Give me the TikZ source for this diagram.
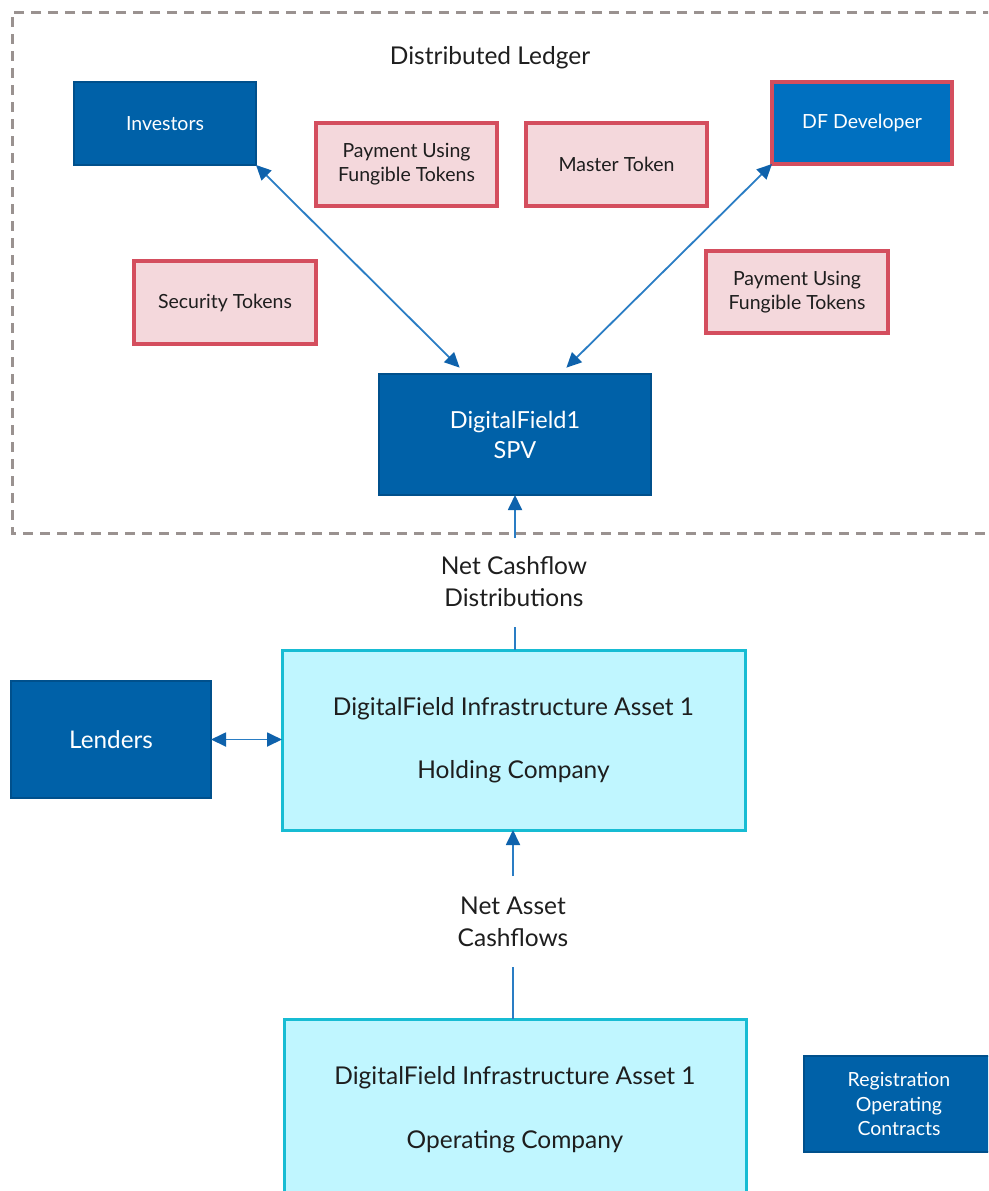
\documentclass[tikz,border=0pt]{standalone}
\usepackage{fontspec}
\setmainfont{Lato}
\usetikzlibrary{arrows.meta}
\definecolor{dkblue}{HTML}{0061A8}
\definecolor{dkblueline}{HTML}{00508C}
\definecolor{midblue}{HTML}{0070C0}
\definecolor{pinkfill}{HTML}{F4D8DC}
\definecolor{redline}{HTML}{D44E5E}
\definecolor{cyanfill}{HTML}{C0F6FF}
\definecolor{cyanline}{HTML}{17BCD3}
\definecolor{arrowblue}{HTML}{2A7DC4}
\definecolor{tipblue}{HTML}{0E62AC}
\definecolor{dashgray}{HTML}{9A9290}
\definecolor{txt}{HTML}{1E1E1E}
\tikzset{
  x=1pt, y=-1pt,
  box/.style={draw, rectangle, align=center, inner sep=0pt, outer sep=0pt},
  bluebox/.style={box, fill=dkblue, draw=dkblueline, line width=2.4pt, text=white},
  pinkbox/.style={box, fill=pinkfill, draw=redline, line width=3.2pt, text=txt},
  cyanbox/.style={box, fill=cyanfill, draw=cyanline, line width=3pt, text=txt},
  conn/.style={draw=arrowblue, line width=1.8pt},
  tip/.style={-{Triangle[length=15pt,width=14pt,fill=tipblue,color=tipblue]}},
  tips/.style={{Triangle[length=15pt,width=14pt,fill=tipblue,color=tipblue]}-{Triangle[length=15pt,width=14pt,fill=tipblue,color=tipblue]}},
  small/.style={font=\fontsize{19.5}{24}\selectfont},
  large/.style={font=\fontsize{24.3}{32}\selectfont},
  lbl/.style={align=center, text=txt, inner sep=0pt, font=\fontsize{24.5}{32}\selectfont},
}
\begin{document}
\begin{tikzpicture}
\useasboundingbox (0,0) rectangle (988,1191);
\clip (0,0) rectangle (988,1191);
\fill[white] (0,0) rectangle (988,1191);

% dashed frame (right side off page)
\draw[dashgray, line width=3pt, dash pattern=on 10pt off 7pt] (1010,12) -- (12,12) -- (12,533) -- (1010,533);
\node[lbl, font=\fontsize{24.5}{30}\selectfont] (title) at (490,58) {Distributed Ledger};

% top nodes
\node[bluebox, small, minimum width=182pt, minimum height=83pt] (inv) at (165,123.5) {Investors};
\node[pinkbox, small, minimum width=181pt, minimum height=83pt] (pay1) at (406.5,164.5) {Payment Using\\Fungible Tokens};
\node[pinkbox, small, minimum width=181pt, minimum height=83pt] (master) at (616.5,164.5) {Master Token};
\node[bluebox, small, fill=midblue, draw=redline, line width=3.2pt, minimum width=180pt, minimum height=82pt] (dev) at (862,123) {DF Developer};
\node[pinkbox, small, minimum width=182pt, minimum height=83pt] (sec) at (225,302.5) {Security Tokens};
\node[pinkbox, small, minimum width=182pt, minimum height=82pt] (pay2) at (797,292) {Payment Using\\Fungible Tokens};
\node[bluebox, font=\fontsize{23.5}{30}\selectfont, minimum width=272pt, minimum height=121pt] (spv) at (515,434.5) {DigitalField1\\SPV};

\coordinate (spvL) at (466,374);
\coordinate (spvR) at (560,374);
\draw[conn, tips, shorten >=9pt] (inv.south east) -- (spvL);
\draw[conn, tips, shorten >=9pt] (dev.south west) -- (spvR);

% SPV cashflow
\coordinate (c1) at (515,538);
\coordinate (c2) at (515,627);
\node[lbl] (ncd) at (514,582) {Net Cashflow\\Distributions};
\draw[conn, tip] (c1) -- (c1 |- spv.south);

% holding
\node[cyanbox, minimum width=463pt, minimum height=180pt, font=\fontsize{24.5}{63}\selectfont] (hold) at (513.5,740) {DigitalField Infrastructure Asset 1\\Holding Company};
\draw[conn] (c2) -- (c2 |- hold.north);

\node[bluebox, large, minimum width=200pt, minimum height=117pt] (lend) at (111,739.5) {Lenders};
\draw[conn, tips] (lend.east) -- (lend.east -| hold.west);

% net asset cashflows
\coordinate (c3) at (513,876);
\coordinate (c4) at (513,967);
\node[lbl] (nac) at (513,922) {Net Asset\\Cashflows};
\draw[conn, tip] (c3) -- (c3 |- hold.south);

% operating
\node[cyanbox, minimum width=462pt, minimum height=240pt, anchor=north] (op) at (515,1019) {};
\node[lbl, font=\fontsize{24.5}{64}\selectfont] (optxt) at (515,1110) {DigitalField Infrastructure Asset 1\\Operating Company};
\draw[conn] (c4) -- (c4 |- op.north);

\node[bluebox, small, font=\fontsize{19.5}{24.5}\selectfont, minimum width=190pt, minimum height=96pt] (reg) at (899,1104) {Registration\\Operating\\Contracts};
\end{tikzpicture}
\end{document}
